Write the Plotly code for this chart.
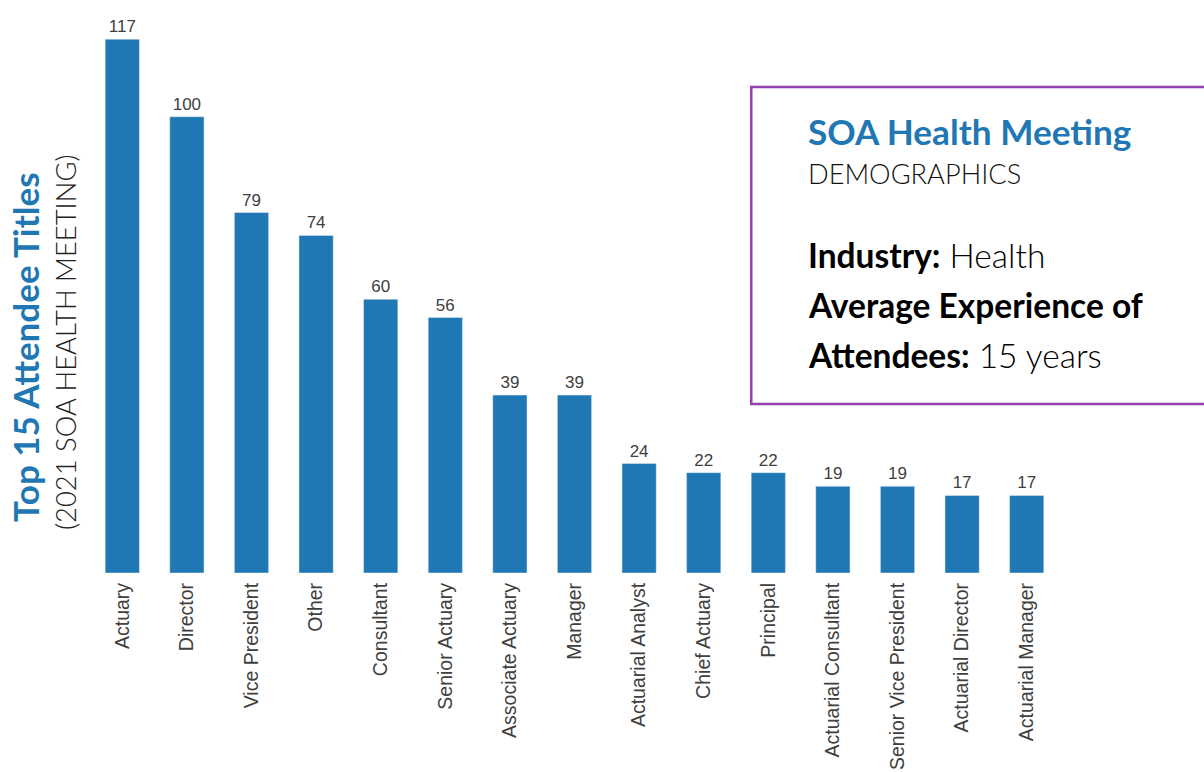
import plotly.graph_objects as go

titles = ["Actuary", "Director", "Vice President", "Other", "Consultant", "Senior Actuary",
          "Associate Actuary", "Manager", "Actuarial Analyst", "Chief Actuary", "Principal",
          "Actuarial Consultant", "Senior Vice President", "Actuarial Director", "Actuarial Manager"]
counts = [117, 100, 79, 74, 60, 56, 39, 39, 24, 22, 22, 19, 19, 17, 17]

BLUE = "#1f77b4"
GRAY = "#404040"

L, T, W, H = 90, 10, 968.6, 563

fig = go.Figure(go.Bar(
    x=titles, y=counts, marker_color=BLUE,
    text=counts, textposition="outside", cliponaxis=False,
    textfont=dict(family="Liberation Sans, Arial", size=17, color=GRAY),
))

fig.update_layout(
    width=1204, height=772,
    margin=dict(l=L, r=1204 - L - W, t=T, b=772 - T - H, autoexpand=False),
    plot_bgcolor="white", paper_bgcolor="white",
    bargap=0.47, showlegend=False,
    xaxis=dict(tickangle=-90, tickfont=dict(family="Liberation Sans, Arial", size=19.5, color=GRAY),
               showline=False, ticks="", showgrid=False, automargin=False, ticklabelstandoff=5),
    yaxis=dict(range=[0, 123.4], visible=False, showgrid=False, automargin=False),
)

def px(x, y):
    return (x - L) / W, (T + H - y) / H

# Left rotated title
bx, by = px(25, 347)
fig.add_annotation(xref="paper", yref="paper", x=bx, y=by, xanchor="center", yanchor="middle",
                   text="<b>Top 15 Attendee Titles</b>", textangle=-90, showarrow=False,
                   borderpad=0,
                   font=dict(family="Lato, Open Sans", size=35, color=BLUE))
gx, gy = px(65, 342)
fig.add_annotation(xref="paper", yref="paper", x=gx, y=gy, xanchor="center", yanchor="middle",
                   text="(2021 SOA HEALTH MEETING)", textangle=-90, showarrow=False,
                   borderpad=0,
                   font=dict(family="Lato, Open Sans", size=27.4, color="#222222", weight=300))

# Info box
x0, y0 = px(751, 404)
x1, y1 = px(1225, 87)
fig.add_shape(type="rect", xref="paper", yref="paper", x0=x0, x1=x1, y0=y0, y1=y1,
              line=dict(color="#9440b0", width=2.5), fillcolor="white", layer="above")

for (txt, y, size, color, weight) in [
    ("<b>SOA Health Meeting</b>", 131, 35.2, BLUE, None),
    ("DEMOGRAPHICS", 174, 27.2, "#111111", 300),
    ("<b>Industry:</b> Health", 255, 33.5, "#000000", 300),
    ("<b>Average Experience of</b>", 305, 33.5, "#000000", 300),
    ("<b>Attendees:</b> 15 years", 355, 33.5, "#000000", 300),
]:
    xx, yy = px(806, y)
    f = dict(family="Lato, Open Sans", size=size, color=color)
    if weight:
        f["weight"] = weight
    fig.add_annotation(xref="paper", yref="paper", x=xx, y=yy, xanchor="left", yanchor="middle",
                       text=txt, showarrow=False, font=f)

fig.write_html("out.html", config={"displayModeBar": False},
               post_script="document.body.style.margin='0';")
